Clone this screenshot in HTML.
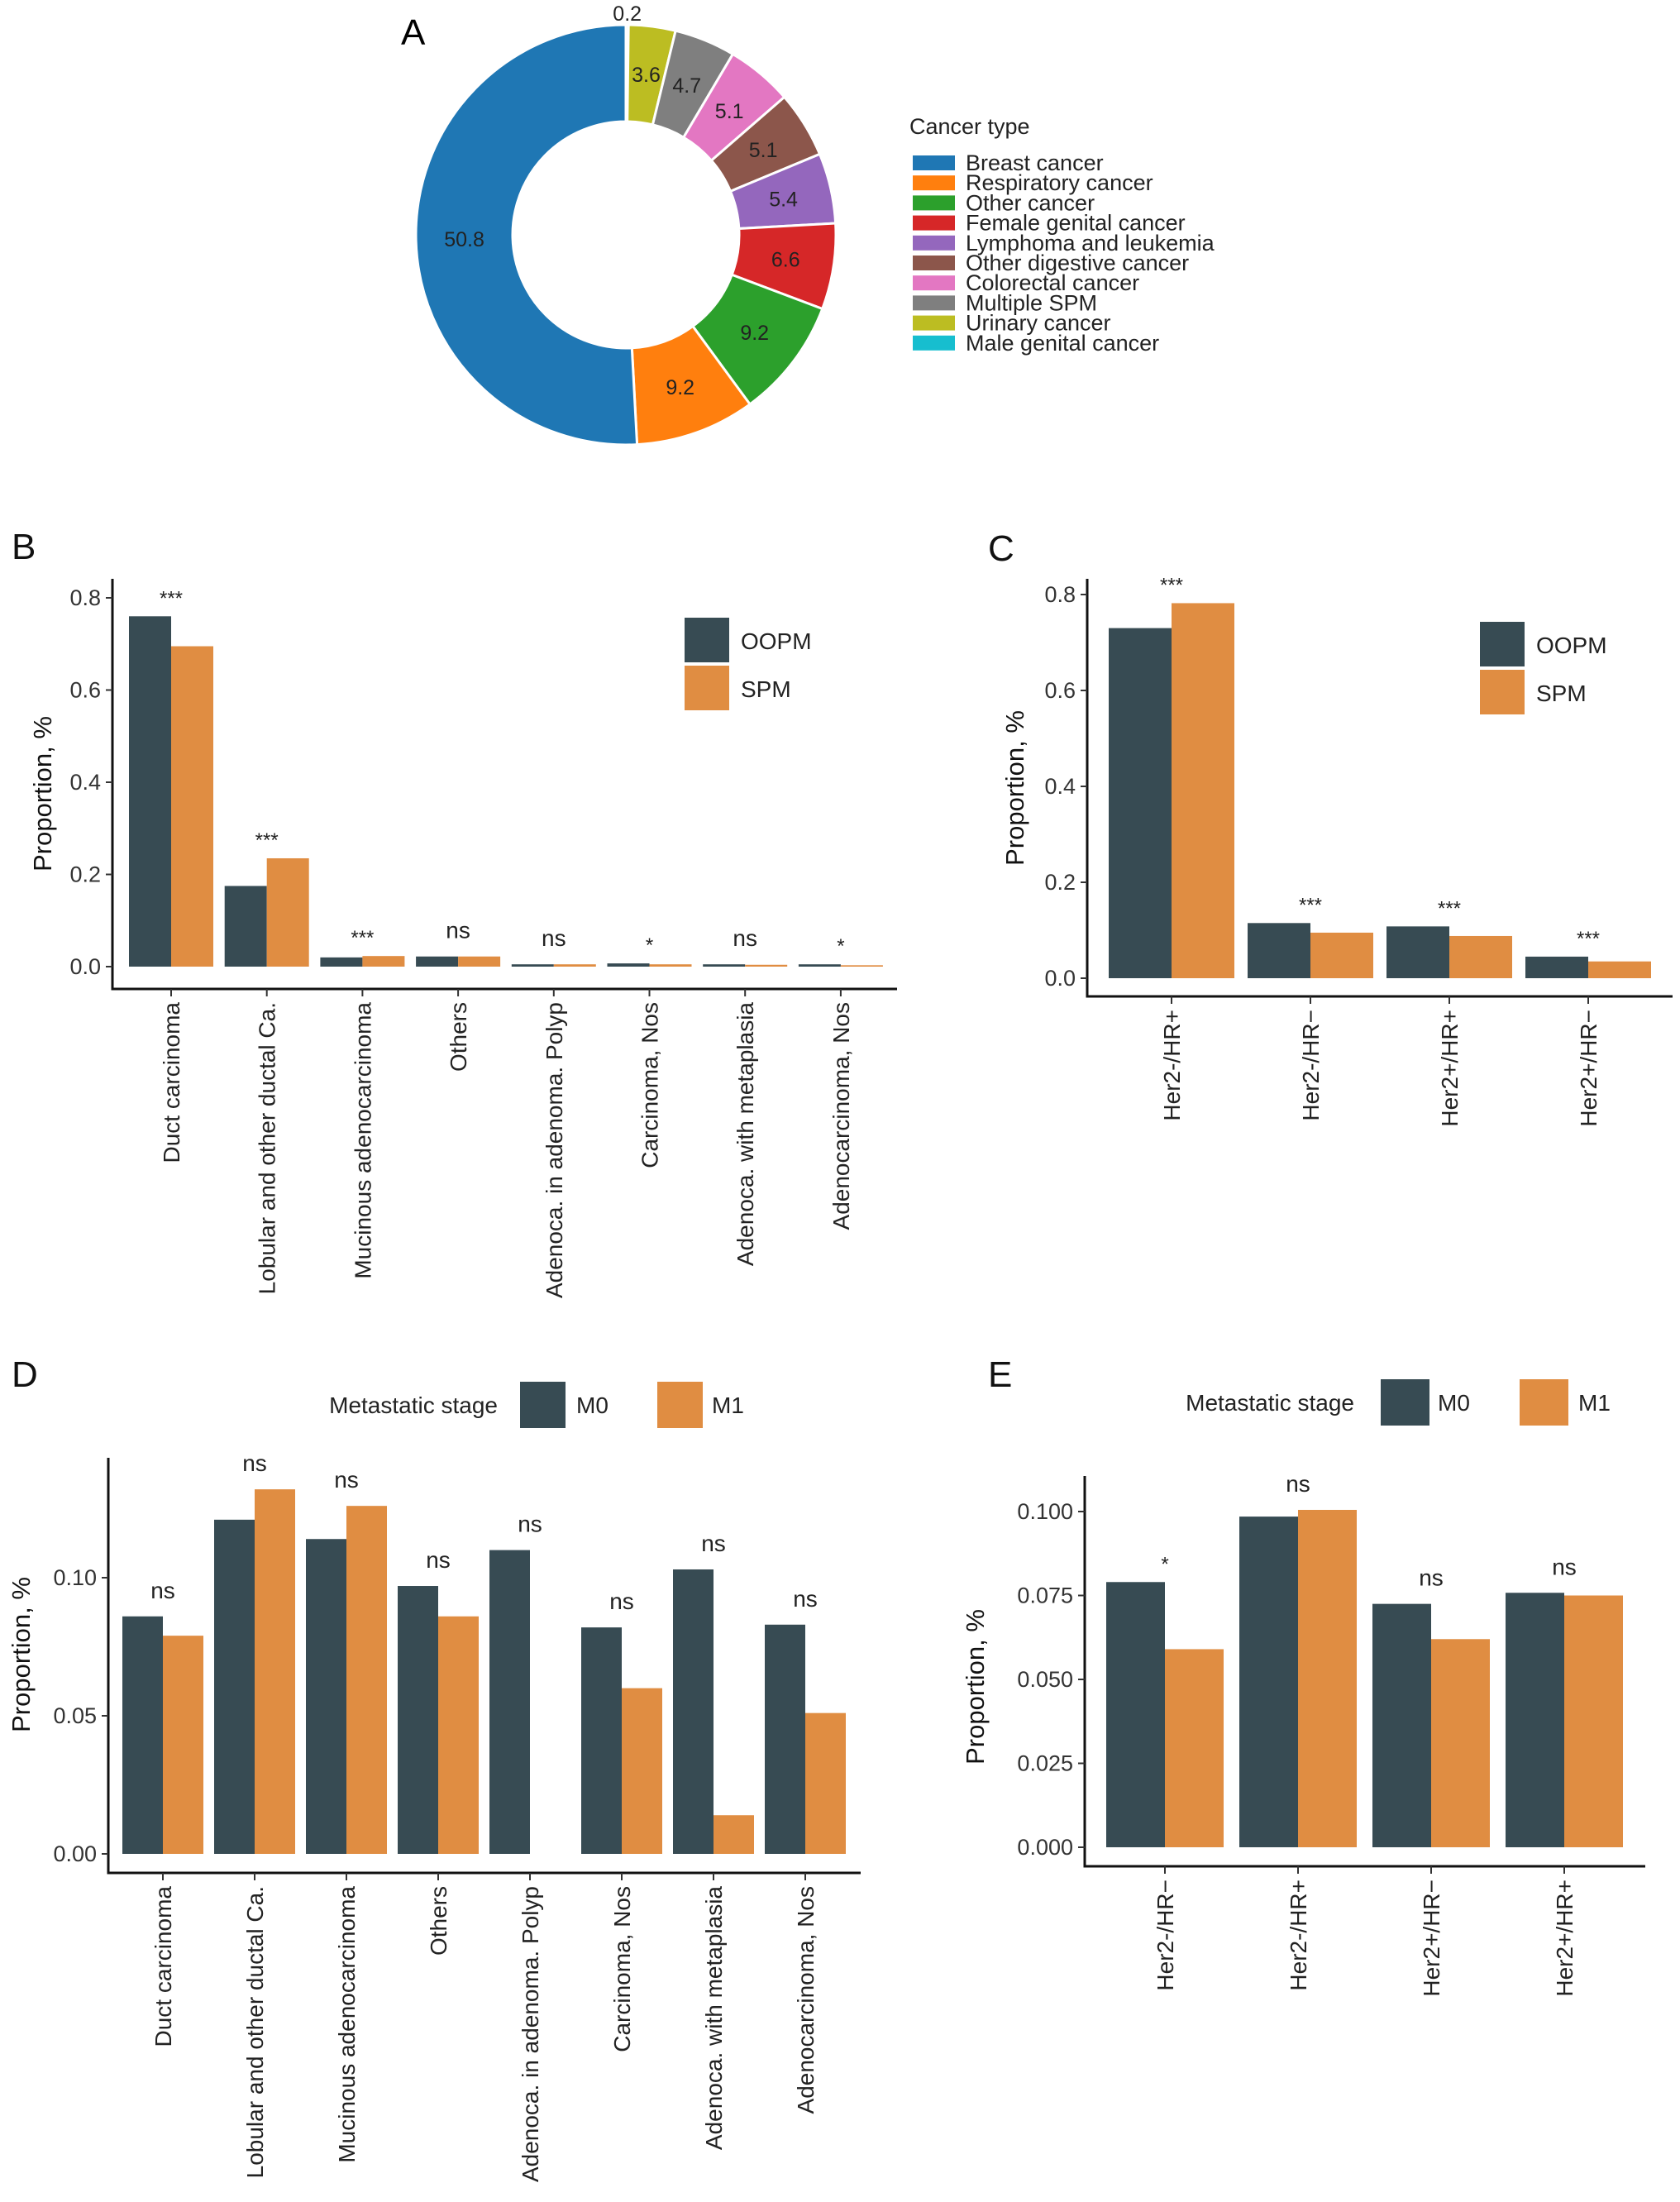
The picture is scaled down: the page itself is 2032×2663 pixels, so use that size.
<!DOCTYPE html>
<html><head><meta charset="utf-8">
<style>
html,body{margin:0;padding:0;background:#fff;}
svg{display:block;font-family:"Liberation Sans",Arial,sans-serif;}
</style></head>
<body>
<svg id="fig" width="2032" height="2663" viewBox="0 0 2032 2663" xmlns="http://www.w3.org/2000/svg"></svg>
<script>
// ---------- Panel A data ----------
const donutLabels = ["Male genital cancer","Urinary cancer","Multiple SPM","Colorectal cancer","Other digestive cancer","Lymphoma and leukemia","Female genital cancer","Other cancer","Respiratory cancer","Breast cancer"];
const donutValues = [0.2,3.6,4.7,5.1,5.1,5.4,6.6,9.2,9.2,50.8];
const donutColors = ["#17becf","#bcbd22","#7f7f7f","#e377c2","#8c564b","#9467bd","#d62728","#2ca02c","#ff7f0e","#1f77b4"];
const legendOrder = ["Breast cancer","Respiratory cancer","Other cancer","Female genital cancer","Lymphoma and leukemia","Other digestive cancer","Colorectal cancer","Multiple SPM","Urinary cancer","Male genital cancer"];

// ---------- Panel B data ----------
const bCats = ["Duct carcinoma","Lobular and other ductal Ca.","Mucinous adenocarcinoma","Others","Adenoca. in adenoma. Polyp","Carcinoma, Nos","Adenoca. with metaplasia","Adenocarcinoma, Nos"];
const bOOPM = [0.76,0.175,0.020,0.022,0.005,0.007,0.005,0.005];
const bSPM  = [0.695,0.235,0.023,0.022,0.005,0.005,0.004,0.003];
const bSig  = ["***","***","***","ns","ns","*","ns","*"];
const bTicks = [0.0,0.2,0.4,0.6,0.8];
const bTickLabels = ["0.0","0.2","0.4","0.6","0.8"];

// ---------- Panel C data ----------
const cCats = ["Her2-/HR+","Her2-/HR\u2212","Her2+/HR+","Her2+/HR\u2212"];
const cOOPM = [0.73,0.115,0.108,0.045];
const cSPM  = [0.782,0.095,0.088,0.035];
const cSig  = ["***","***","***","***"];
const cTicks = [0.0,0.2,0.4,0.6,0.8];
const cTickLabels = ["0.0","0.2","0.4","0.6","0.8"];

// ---------- Panel D data ----------
const dCats = bCats.slice();
const dM0 = [0.086,0.121,0.114,0.097,0.110,0.082,0.103,0.083];
const dM1 = [0.079,0.132,0.126,0.086,0,0.060,0.014,0.051];
const dSig = ["ns","ns","ns","ns","ns","ns","ns","ns"];
const dTicks = [0.0,0.05,0.10];
const dTickLabels = ["0.00","0.05","0.10"];

// ---------- Panel E data ----------
const eCats = ["Her2-/HR\u2212","Her2-/HR+","Her2+/HR\u2212","Her2+/HR+"];
const eM0 = [0.079,0.0985,0.0725,0.0758];
const eM1 = [0.059,0.1005,0.062,0.075];
const eSig = ["*","ns","ns","ns"];
const eTicks = [0.0,0.025,0.05,0.075,0.10];
const eTickLabels = ["0.000","0.025","0.050","0.075","0.100"];

const DARK="#374b53", ORANGE="#e08d42";
const NS="http://www.w3.org/2000/svg";
const svg=document.getElementById('fig');
function el(tag,attrs,parent){const e=document.createElementNS(NS,tag);for(const k in attrs)e.setAttribute(k,attrs[k]);(parent||svg).appendChild(e);return e;}
function txt(s,attrs,parent){const t=el('text',attrs,parent);t.textContent=s;return t;}

// ---------- Panel A ----------
(function(){
  const g=el('g',{});
  
  
  const cx=757,cy=284,R=254,r=137;
  const lab=txt("A",{x:485,y:54,'font-size':44},g);
  
  
  const total=donutValues.reduce((a,b)=>a+b,0);
  let acc=0;
  donutValues.forEach((v,i)=>{
    const a0=acc/total*2*Math.PI, a1=(acc+v)/total*2*Math.PI; acc+=v;
    const p=(a,rr)=>[cx+rr*Math.sin(a),cy-rr*Math.cos(a)];
    const large=(a1-a0)>Math.PI?1:0;
    const [x0,y0]=p(a0,R),[x1,y1]=p(a1,R),[x2,y2]=p(a1,r),[x3,y3]=p(a0,r);
    const path=el('path',{d:`M${x0},${y0}A${R},${R} 0 ${large} 1 ${x1},${y1}L${x2},${y2}A${r},${r} 0 ${large} 0 ${x3},${y3}Z`,fill:donutColors[i],stroke:'#fff','stroke-width':3},g);
    
    
    const am=(a0+a1)/2;
    let [lx,ly]=p(am,(R+r)/2);
    if(v<1){[lx,ly]=p(am,R+14);}
    const t=txt(String(v),{x:lx,y:ly+9,'font-size':25,'text-anchor':'middle',fill:'#222'},g);
    
    
  });
  const lg=el('g',{});
  
  
  const lt=txt("Cancer type",{x:1100,y:162,'font-size':27,fill:'#222'},lg);
  
  
  legendOrder.forEach((name,k)=>{
    const idx=donutLabels.indexOf(name);
    const y=188+k*24.2;
    const rc=el('rect',{x:1104,y:y,width:51,height:18,fill:donutColors[idx]},lg);
    
    
    const t=txt(name,{x:1168,y:y+18,'font-size':27,fill:'#222'},lg);
    
    
  });
})();

// ---------- generic grouped bar chart ----------
function barChart(o){
  const g=el('g',{});
  
  
  const yScale=v=>o.y0-(v/o.vStep)*o.pxStep;
  const L=txt(o.letter,{x:o.letterX,y:o.letterY,'font-size':44,fill:'#111'},g);
  
  
  // axes
  const ya=el('line',{x1:o.axX,y1:o.axTop,x2:o.axX,y2:o.axY+1.5,stroke:'#111','stroke-width':3},g);
  
  
  const xa=el('line',{x1:o.axX-1.5,y1:o.axY,x2:o.axRight,y2:o.axY,stroke:'#111','stroke-width':3},g);
  
  
  o.ticks.forEach((t,i)=>{
    const y=yScale(t);
    el('line',{x1:o.axX-8,y1:y,x2:o.axX,y2:y,stroke:'#333','stroke-width':2},g);
    const tl=txt(o.tickLabels[i],{x:o.axX-14,y:y+9,'font-size':27,'text-anchor':'end',fill:'#333'},g);
    
    
  });
  const yt=txt("Proportion, %",{x:0,y:0,'font-size':31,'text-anchor':'middle',fill:'#111',transform:`translate(${o.ytX},${o.ytY}) rotate(-90)`},g);
  
  
  o.cats.forEach((c,i)=>{
    const cx=o.c0+i*o.pitch;
    el('line',{x1:cx,y1:o.axY,x2:cx,y2:o.axY+9,stroke:'#333','stroke-width':2},g);
    const b1=el('rect',{x:cx-o.bw,y:yScale(o.s1[i]),width:o.bw,height:Math.max(0,o.y0-yScale(o.s1[i])),fill:DARK},g);
    
    
    const b2=el('rect',{x:cx,y:yScale(o.s2[i]),width:o.bw,height:Math.max(0,o.y0-yScale(o.s2[i])),fill:ORANGE},g);
    
    
    const top=yScale(Math.max(o.s1[i],o.s2[i]));
    const s=o.sig[i];
    const st=txt(s,{x:cx,y:top-(s==="ns"?22:14),'font-size':s==="ns"?28:24,'text-anchor':'middle',fill:'#222'},g);
    
    
    const cl=txt(c,{x:0,y:0,'font-size':28,'text-anchor':'end',fill:'#222',transform:`translate(${cx+10},${o.axY+16}) rotate(-90)`},g);
    
    
  });
  return g;
}
function legendV(x,y,n1,n2,name){
  const g=el('g',{});
  
  
  const r1=el('rect',{x:x,y:y,width:54,height:54,fill:DARK},g);
  
  
  const r2=el('rect',{x:x,y:y+58,width:54,height:54,fill:ORANGE},g);
  
  
  const t1=txt(n1,{x:x+68,y:y+38,'font-size':28,fill:'#222'},g);
  
  
  const t2=txt(n2,{x:x+68,y:y+96,'font-size':28,fill:'#222'},g);
  
  
}
function legendH(titleRight,y,k1x,t1x,k2x,t2x,kw,name){
  const g=el('g',{});
  
  
  const t=txt("Metastatic stage",{x:titleRight,y:y+38,'font-size':28,'text-anchor':'end',fill:'#222'},g);
  
  
  const r1=el('rect',{x:k1x,y:y,width:kw,height:56,fill:DARK},g);
  
  
  const a=txt("M0",{x:t1x,y:y+38,'font-size':28,fill:'#222'},g);
  
  
  const r2=el('rect',{x:k2x,y:y,width:kw,height:56,fill:ORANGE},g);
  
  
  const b=txt("M1",{x:t2x,y:y+38,'font-size':28,fill:'#222'},g);
  
  
}

barChart({name:'histology-bar-chart-b',letter:'B',letterX:14,letterY:676,cats:bCats,s1:bOOPM,s2:bSPM,sig:bSig,k1:'oopm',k2:'spm',
  ticks:bTicks,tickLabels:bTickLabels,y0:1169,vStep:0.2,pxStep:111.5,axX:136,axTop:700,axY:1196,axRight:1085,
  c0:207,pitch:115.7,bw:51,ytX:62,ytY:960});
legendV(828,747,"OOPM","SPM",'legend-b');

barChart({name:'receptor-bar-chart-c',letter:'C',letterX:1195,letterY:678,cats:cCats,s1:cOOPM,s2:cSPM,sig:cSig,k1:'oopm',k2:'spm',
  ticks:cTicks,tickLabels:cTickLabels,y0:1183,vStep:0.2,pxStep:116,axX:1315,axTop:700,axY:1205,axRight:2023,
  c0:1417,pitch:168,bw:76,ytX:1238,ytY:953});
legendV(1790,752,"OOPM","SPM",'legend-c');

barChart({name:'histology-stage-bar-chart-d',letter:'D',letterX:14,letterY:1677,cats:dCats,s1:dM0,s2:dM1,sig:dSig,k1:'m0',k2:'m1',
  ticks:dTicks,tickLabels:dTickLabels,y0:2242,vStep:0.05,pxStep:167,axX:131,axTop:1763,axY:2265,axRight:1041,
  c0:197,pitch:111,bw:49,ytX:36,ytY:2001});
legendH(602,1671,629,697,795,861,55,'legend-d');

barChart({name:'receptor-stage-bar-chart-e',letter:'E',letterX:1195,letterY:1677,cats:eCats,s1:eM0,s2:eM1,sig:eSig,k1:'m0',k2:'m1',
  ticks:eTicks,tickLabels:eTickLabels,y0:2234,vStep:0.025,pxStep:101.5,axX:1312,axTop:1785,axY:2257,axRight:1990,
  c0:1409,pitch:161,bw:71,ytX:1190,ytY:2040});
legendH(1638,1668,1670,1739,1838,1909,59,'legend-e');
</script>
</body></html>
